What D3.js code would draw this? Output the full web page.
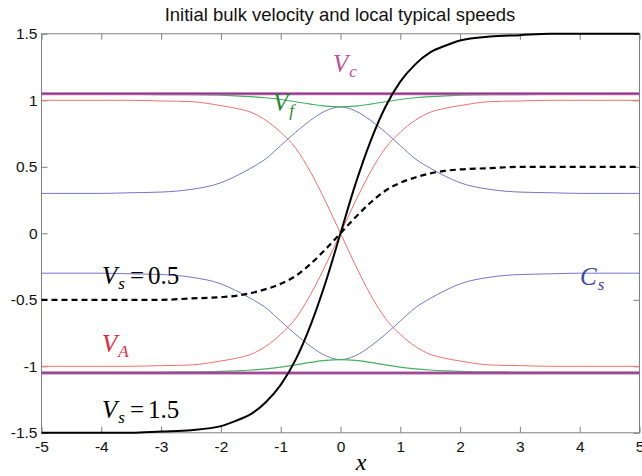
<!DOCTYPE html>
<meta charset="utf-8">
<title>Initial bulk velocity and local typical speeds</title>
<style>
body { margin: 0; background: #fff; }
svg { display: block; font-family: Arial, "Liberation Sans", sans-serif; }
.frame { fill: none; stroke: #808080; stroke-width: 1; }
.tick line { stroke: #808080; }
.tick text { fill: #111; font-size: 15.5px; }
.math { font-family: "Liberation Serif", "DejaVu Serif", serif; }
</style>
<body>
<script src="https://d3js.org/d3.v7.min.js"></script>
<script>
// sample positions along x
var xs = [-5, -4, -3.5, -3, -2.5, -2, -1.75, -1.5, -1.25, -1, -0.75, -0.5, -0.25, 0,
          0.25, 0.5, 0.75, 1, 1.25, 1.5, 1.75, 2, 2.5, 3, 3.5, 4, 5];

// Alfven speed (rising branch, the other one is its mirror)
var vA = [-1.00, -1.00, -1.00, -0.995, -0.99, -0.96, -0.94, -0.91, -0.85, -0.76, -0.64, -0.46, -0.24, 0,
          0.24, 0.46, 0.64, 0.76, 0.85, 0.91, 0.94, 0.96, 0.99, 0.995, 1.00, 1.00, 1.00];

// sound speed
var cS = [0.30, 0.30, 0.305, 0.31, 0.33, 0.38, 0.43, 0.49, 0.56, 0.66, 0.76, 0.85, 0.92, 0.95,
          0.92, 0.85, 0.76, 0.66, 0.56, 0.49, 0.43, 0.38, 0.33, 0.31, 0.305, 0.30, 0.30];

// fast speed
var vF = [1.044, 1.044, 1.044, 1.043, 1.042, 1.038, 1.034, 1.028, 1.019, 1.006, 0.989, 0.971, 0.956, 0.95,
          0.956, 0.971, 0.989, 1.006, 1.019, 1.028, 1.034, 1.038, 1.042, 1.043, 1.044, 1.044, 1.044];

// bulk velocity profiles
var vS15 = [-1.50, -1.50, -1.50, -1.49, -1.48, -1.45, -1.41, -1.36, -1.27, -1.14, -0.95, -0.69, -0.37, 0,
            0.37, 0.69, 0.95, 1.14, 1.27, 1.36, 1.41, 1.45, 1.48, 1.49, 1.50, 1.50, 1.50];
var vS05 = [-0.50, -0.50, -0.50, -0.50, -0.49, -0.48, -0.47, -0.45, -0.42, -0.38, -0.32, -0.23, -0.12, 0,
            0.12, 0.23, 0.32, 0.38, 0.42, 0.45, 0.47, 0.48, 0.49, 0.50, 0.50, 0.50, 0.50];

// critical speed (flat)
var vcX = [-5, 5];
var vC = [1.05, 1.05];

var xTicks = [-5, -4, -3, -2, -1, 0, 1, 2, 3, 4, 5];
var yTicks = [-1.5, -1, -0.5, 0, 0.5, 1, 1.5];

var W = 642, H = 476;
var pL = 41.5, pR = 639.5, pT = 33.8, pB = 432.8;

var svg = d3.select("body").append("svg").attr("width", W).attr("height", H);

var x = d3.scaleLinear().domain([-5, 5]).range([pL, pR]);
var y = d3.scaleLinear().domain([-1.5, 1.5]).range([pB, pT]);

function line(xv, yv, sign) {
  var pts = xv.map(function(d, i) { return [d, sign * yv[i]]; });
  return d3.line()
    .x(function(d) { return x(d[0]); })
    .y(function(d) { return y(d[1]); })
    .curve(d3.curveMonotoneX)(pts);
}

function draw(xv, yv, sign, color, w, dash) {
  svg.append("path")
    .attr("d", line(xv, yv, sign))
    .attr("fill", "none")
    .attr("stroke", color)
    .attr("stroke-width", w)
    .attr("stroke-dasharray", dash || null);
}

// axes (ticks pointing in, box on)
svg.append("g").attr("transform", "translate(0," + pB + ")")
  .call(d3.axisBottom(x).tickValues(xTicks).tickSizeInner(-6).tickSizeOuter(0).tickPadding(8)
    .tickFormat(function(d) { return String(d); }));
svg.append("g").attr("transform", "translate(0," + pT + ")")
  .call(d3.axisTop(x).tickValues(xTicks).tickSizeInner(-6).tickSizeOuter(0).tickFormat(""));
svg.append("g").attr("transform", "translate(" + pL + ",0)")
  .call(d3.axisLeft(y).tickValues(yTicks).tickSizeInner(-6).tickSizeOuter(0).tickPadding(4)
    .tickFormat(function(d) { return String(d); }));
svg.append("g").attr("transform", "translate(" + pR + ",0)")
  .call(d3.axisRight(y).tickValues(yTicks).tickSizeInner(-6).tickSizeOuter(0).tickFormat(""));
svg.selectAll(".domain").remove();
svg.append("rect").attr("class", "frame")
  .attr("x", pL).attr("y", pT).attr("width", pR - pL).attr("height", pB - pT);

// curves
draw(xs, vA, 1, "#f07070", 1);
draw(xs, vA, -1, "#f07070", 1);
draw(xs, cS, 1, "#7676c8", 1);
draw(xs, cS, -1, "#7676c8", 1);
draw(xs, vF, 1, "#44b060", 1.2);
draw(xs, vF, -1, "#44b060", 1.2);
draw(vcX, vC, 1, "#c060b0", 3);
draw(vcX, vC, -1, "#c060b0", 3);
draw(vcX, vC, 1, "#7a3a78", 1);
draw(vcX, vC, -1, "#7a3a78", 1);
draw(xs, vS05, 1, "#000", 2.2, "6,4");
draw(xs, vS15, 1, "#000", 2);

// title and axis label
svg.append("text").attr("x", 340).attr("y", 21).attr("text-anchor", "middle")
  .style("font-size", "18.5px").attr("fill", "#111")
  .text("Initial bulk velocity and local typical speeds");
svg.append("text").attr("class", "math").attr("x", 361).attr("y", 470)
  .attr("text-anchor", "middle").style("font-size", "24px").style("font-style", "italic")
  .text("x");

// curve labels
function mathLabel(px, py, main, sub, rest, color) {
  var t = svg.append("text").attr("class", "math").attr("x", px).attr("y", py)
    .attr("fill", color).style("font-size", "25px");
  t.append("tspan").style("font-style", "italic").text(main);
  t.append("tspan").style("font-style", "italic").style("font-size", "17px")
    .attr("dx", 1).attr("dy", 5).text(sub);
  if (rest) {
    t.append("tspan").attr("dx", 5).attr("dy", -5).text("=");
    t.append("tspan").attr("dx", 4).text(rest);
  }
}

mathLabel(333, 72, "V", "c", null, "#c050a0");
mathLabel(273, 111, "V", "f", null, "#1f8a36");
mathLabel(102, 352, "V", "A", null, "#e0283a");
mathLabel(580, 285, "C", "s", null, "#3c48a8");
mathLabel(102, 284, "V", "s", "0.5", "#000");
mathLabel(102, 418, "V", "s", "1.5", "#000");
</script>
</body>
